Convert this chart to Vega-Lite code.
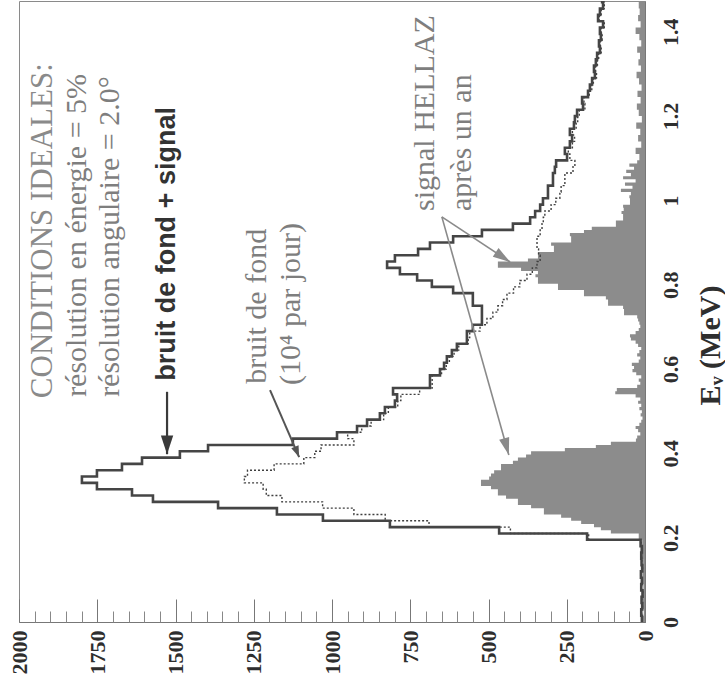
{
"$schema":"https://vega.github.io/schema/vega-lite/v6.json",
"width":626,"height":621,
"autosize":{"type":"none"},
"padding":{"left":19,"top":1,"right":80,"bottom":73},
"background":"white",
"config":{"view":{"stroke":"#8a8a8a","strokeWidth":1},"axis":{"grid":false}},
"datasets":{
"solid":[
{"e":0,"c":10},{"e":0.015,"c":12},{"e":0.03,"c":9},{"e":0.045,"c":11},{"e":0.06,"c":8},{"e":0.075,"c":12},{"e":0.09,"c":10},{"e":0.105,"c":13},{"e":0.12,"c":9},{"e":0.135,"c":11},{"e":0.15,"c":12},{"e":0.165,"c":10},{"e":0.18,"c":14},
{"e":0.195,"c":185},{"e":0.21,"c":466},{"e":0.225,"c":815},{"e":0.24,"c":1029},{"e":0.255,"c":1176},{"e":0.27,"c":1364},{"e":0.285,"c":1572},{"e":0.3,"c":1639},{"e":0.315,"c":1751},{"e":0.33,"c":1799},{"e":0.345,"c":1751},{"e":0.36,"c":1671},{"e":0.375,"c":1607},{"e":0.39,"c":1486},{"e":0.405,"c":1396},{"e":0.42,"c":1125},{"e":0.435,"c":984},{"e":0.45,"c":920},{"e":0.465,"c":888},{"e":0.48,"c":847},{"e":0.495,"c":831},{"e":0.51,"c":799},{"e":0.525,"c":792},{"e":0.54,"c":805},{"e":0.555,"c":687},{"e":0.57,"c":687},{"e":0.585,"c":655},{"e":0.6,"c":642},{"e":0.615,"c":633},{"e":0.63,"c":617},{"e":0.645,"c":601},{"e":0.66,"c":569},{"e":0.675,"c":569},{"e":0.69,"c":550},{"e":0.705,"c":521},{"e":0.72,"c":521},{"e":0.735,"c":521},{"e":0.75,"c":550},{"e":0.765,"c":550},{"e":0.78,"c":613},{"e":0.795,"c":681},{"e":0.81,"c":728},{"e":0.825,"c":783},{"e":0.84,"c":824},{"e":0.855,"c":799},{"e":0.87,"c":725},{"e":0.885,"c":687},{"e":0.9,"c":613},{"e":0.915,"c":521},{"e":0.93,"c":422},{"e":0.945,"c":367},{"e":0.96,"c":351},{"e":0.975,"c":335},{"e":0.99,"c":326},{"e":1.005,"c":310},{"e":1.02,"c":310},{"e":1.035,"c":294},{"e":1.05,"c":294},{"e":1.065,"c":288},{"e":1.08,"c":284},{"e":1.095,"c":249},{"e":1.11,"c":256},{"e":1.125,"c":240},{"e":1.14,"c":233},{"e":1.155,"c":240},{"e":1.17,"c":227},{"e":1.185,"c":224},{"e":1.2,"c":217},{"e":1.215,"c":198},{"e":1.23,"c":201},{"e":1.245,"c":182},{"e":1.26,"c":176},{"e":1.275,"c":169},{"e":1.29,"c":160},{"e":1.305,"c":163},{"e":1.32,"c":157},{"e":1.335,"c":153},{"e":1.35,"c":144},{"e":1.365,"c":147},{"e":1.38,"c":141},{"e":1.395,"c":144},{"e":1.41,"c":134},{"e":1.425,"c":150},{"e":1.44,"c":144},{"e":1.455,"c":134},{"e":1.47,"c":137},{"e":1.485,"c":137}],
"bg":[
{"e":0,"c":9},{"e":0.015,"c":11},{"e":0.03,"c":8},{"e":0.045,"c":10},{"e":0.06,"c":7},{"e":0.075,"c":11},{"e":0.09,"c":9},{"e":0.105,"c":12},{"e":0.12,"c":8},{"e":0.135,"c":10},{"e":0.15,"c":11},{"e":0.165,"c":9},{"e":0.18,"c":12},
{"e":0.195,"c":180},{"e":0.21,"c":430},{"e":0.225,"c":690},{"e":0.24,"c":830},{"e":0.255,"c":930},{"e":0.27,"c":1030},{"e":0.285,"c":1160},{"e":0.3,"c":1210},{"e":0.315,"c":1220},{"e":0.33,"c":1280},{"e":0.345,"c":1270},{"e":0.36,"c":1185},{"e":0.375,"c":1090},{"e":0.39,"c":1055},{"e":0.405,"c":1035},{"e":0.42,"c":930},{"e":0.435,"c":950},{"e":0.45,"c":905},{"e":0.465,"c":875},{"e":0.48,"c":835},{"e":0.495,"c":820},{"e":0.51,"c":790},{"e":0.525,"c":780},{"e":0.54,"c":720},{"e":0.555,"c":680},{"e":0.57,"c":680},{"e":0.585,"c":650},{"e":0.6,"c":635},{"e":0.615,"c":625},{"e":0.63,"c":610},{"e":0.645,"c":595},{"e":0.66,"c":565},{"e":0.675,"c":560},{"e":0.69,"c":527},{"e":0.705,"c":505},{"e":0.72,"c":486},{"e":0.735,"c":470},{"e":0.75,"c":455},{"e":0.765,"c":441},{"e":0.78,"c":420},{"e":0.795,"c":400},{"e":0.81,"c":377},{"e":0.825,"c":360},{"e":0.84,"c":345},{"e":0.855,"c":335},{"e":0.87,"c":340},{"e":0.885,"c":345},{"e":0.9,"c":345},{"e":0.915,"c":335},{"e":0.93,"c":329},{"e":0.945,"c":325},{"e":0.96,"c":320},{"e":0.975,"c":300},{"e":0.99,"c":285},{"e":1.005,"c":272},{"e":1.02,"c":268},{"e":1.035,"c":256},{"e":1.05,"c":256},{"e":1.065,"c":230},{"e":1.08,"c":224},{"e":1.095,"c":240},{"e":1.11,"c":245},{"e":1.125,"c":232},{"e":1.14,"c":225},{"e":1.155,"c":232},{"e":1.17,"c":220},{"e":1.185,"c":215},{"e":1.2,"c":210},{"e":1.215,"c":192},{"e":1.23,"c":195},{"e":1.245,"c":178},{"e":1.26,"c":170},{"e":1.275,"c":165},{"e":1.29,"c":155},{"e":1.305,"c":158},{"e":1.32,"c":152},{"e":1.335,"c":148},{"e":1.35,"c":140},{"e":1.365,"c":143},{"e":1.38,"c":137},{"e":1.395,"c":140},{"e":1.41,"c":130},{"e":1.425,"c":146},{"e":1.44,"c":140},{"e":1.455,"c":130},{"e":1.47,"c":133},{"e":1.485,"c":133}],
"signal":[
{"e":0,"c":6},{"e":0.015,"c":10},{"e":0.03,"c":4},{"e":0.045,"c":12},{"e":0.06,"c":7},{"e":0.075,"c":9},{"e":0.09,"c":5},{"e":0.105,"c":11},{"e":0.12,"c":8},{"e":0.135,"c":13},{"e":0.15,"c":6},{"e":0.165,"c":10},{"e":0.18,"c":14},{"e":0.195,"c":9},{"e":0.21,"c":20},
{"e":0.2175,"c":109},{"e":0.225,"c":141},{"e":0.2325,"c":163},{"e":0.24,"c":204},{"e":0.2475,"c":236},{"e":0.255,"c":268},{"e":0.2625,"c":323},{"e":0.27,"c":323},{"e":0.2775,"c":364},{"e":0.285,"c":406},{"e":0.2925,"c":406},{"e":0.3,"c":444},{"e":0.3075,"c":470},{"e":0.315,"c":470},{"e":0.3225,"c":492},{"e":0.33,"c":524},{"e":0.3375,"c":524},{"e":0.345,"c":498},{"e":0.3525,"c":492},{"e":0.36,"c":482},{"e":0.3675,"c":460},{"e":0.375,"c":460},{"e":0.3825,"c":422},{"e":0.39,"c":406},{"e":0.3975,"c":380},{"e":0.405,"c":364},{"e":0.4125,"c":256},{"e":0.42,"c":157},{"e":0.4275,"c":109},{"e":0.435,"c":29},
{"e":0.4425,"c":25},{"e":0.45,"c":15},{"e":0.4575,"c":22},{"e":0.465,"c":30},{"e":0.4725,"c":18},{"e":0.48,"c":12},{"e":0.4875,"c":8},{"e":0.495,"c":14},{"e":0.5025,"c":10},{"e":0.51,"c":18},{"e":0.5175,"c":12},{"e":0.525,"c":22},{"e":0.5325,"c":15},{"e":0.54,"c":30},{"e":0.5475,"c":95},{"e":0.555,"c":90},{"e":0.5625,"c":25},{"e":0.57,"c":15},{"e":0.5775,"c":20},{"e":0.585,"c":12},{"e":0.5925,"c":28},{"e":0.6,"c":40},{"e":0.6075,"c":35},{"e":0.615,"c":42},{"e":0.6225,"c":20},{"e":0.63,"c":15},{"e":0.6375,"c":25},{"e":0.645,"c":18},{"e":0.6525,"c":12},{"e":0.66,"c":22},{"e":0.6675,"c":30},{"e":0.675,"c":45},{"e":0.6825,"c":48},{"e":0.69,"c":30},{"e":0.6975,"c":20},{"e":0.705,"c":15},{"e":0.7125,"c":18},
{"e":0.72,"c":22},{"e":0.7275,"c":25},{"e":0.735,"c":67},{"e":0.7425,"c":67},{"e":0.75,"c":70},{"e":0.7575,"c":118},{"e":0.765,"c":118},{"e":0.7725,"c":125},{"e":0.78,"c":195},{"e":0.7875,"c":195},{"e":0.795,"c":278},{"e":0.8025,"c":278},{"e":0.81,"c":342},{"e":0.8175,"c":342},{"e":0.825,"c":350},{"e":0.8325,"c":342},{"e":0.84,"c":396},{"e":0.8475,"c":470},{"e":0.855,"c":470},{"e":0.8625,"c":374},{"e":0.87,"c":342},{"e":0.8775,"c":342},{"e":0.885,"c":291},{"e":0.8925,"c":291},{"e":0.9,"c":300},{"e":0.9075,"c":236},{"e":0.915,"c":236},{"e":0.9225,"c":240},{"e":0.93,"c":195},{"e":0.9375,"c":170},{"e":0.945,"c":93},{"e":0.9525,"c":93},{"e":0.96,"c":70},{"e":0.9675,"c":70},{"e":0.975,"c":75},{"e":0.9825,"c":68},{"e":0.99,"c":70},{"e":0.9975,"c":48},{"e":1.005,"c":48},{"e":1.0125,"c":50},{"e":1.02,"c":45},{"e":1.0275,"c":77},{"e":1.035,"c":40},{"e":1.0425,"c":64},{"e":1.05,"c":30},{"e":1.0575,"c":70},{"e":1.065,"c":45},{"e":1.0725,"c":60},{"e":1.08,"c":35},{"e":1.0875,"c":50},
{"e":1.095,"c":25},{"e":1.11,"c":18},{"e":1.125,"c":30},{"e":1.14,"c":12},{"e":1.155,"c":22},{"e":1.17,"c":15},{"e":1.185,"c":28},{"e":1.2,"c":10},{"e":1.215,"c":20},{"e":1.23,"c":26},{"e":1.245,"c":14},{"e":1.26,"c":24},{"e":1.275,"c":11},{"e":1.29,"c":19},{"e":1.305,"c":27},{"e":1.32,"c":13},{"e":1.335,"c":21},{"e":1.35,"c":16},{"e":1.365,"c":25},{"e":1.38,"c":12},{"e":1.395,"c":18},{"e":1.41,"c":30},{"e":1.425,"c":14},{"e":1.44,"c":22},{"e":1.455,"c":17},{"e":1.47,"c":20},{"e":1.485,"c":20}],
"arrows":[
{"id":"a1","c1":1527,"e1":0.546,"c2":1527,"e2":0.398},
{"id":"a2","c1":1198,"e1":0.55,"c2":1105,"e2":0.391},
{"id":"a3","c1":649,"e1":0.961,"c2":431,"e2":0.854},
{"id":"a4","c1":649,"e1":0.961,"c2":435,"e2":0.396}],
"cond":[{"c":1923,"e":0.531,"t":"CONDITIONS IDEALES:"}],
"grey":[
{"c":1815,"e":0.534,"t":"résolution en énergie = 5%"},
{"c":1709,"e":0.534,"t":"résolution angulaire = 2.0°"},
{"c":1240,"e":0.565,"t":"bruit de fond"},
{"c":1131,"e":0.562,"t":"(10⁴ par jour)"},
{"c":703,"e":0.975,"t":"signal HELLAZ"},
{"c":585,"e":0.975,"t":"après un an"}],
"bold":[{"c":1527,"e":0.572,"t":"bruit de fond + signal"}]
},
"layer":[
{"data":{"name":"signal"},
 "mark":{"type":"area","orient":"horizontal","interpolate":"step-before","color":"#8c8c8c","clip":true},
 "encoding":{
  "y":{"field":"e","type":"quantitative","scale":{"domain":[0,1.473],"nice":false},
   "axis":{"orient":"right","values":[0,0.2,0.4,0.6,0.8,1,1.2,1.4],"format":"~g","ticks":false,"domain":true,"domainColor":"#777","labelAngle":270,"labelAlign":"center","labelBaseline":"top","labelPadding":15,"labelFont":"Liberation Serif","labelFontSize":22,"labelFontWeight":"bold","labelColor":"#2e2e2e","labelFlush":false,"labelOverlap":false,
    "title":"Eᵥ (MeV)","titleFont":"Liberation Serif","titleFontSize":30,"titleFontWeight":"bold","titleColor":"#2e2e2e","titleAngle":270,"titleAlign":"center","titleBaseline":"middle","titleX":65,"titleY":344}},
  "x":{"field":"c","type":"quantitative","stack":null,"scale":{"domain":[0,2000],"reverse":true,"nice":false},
   "axis":{"orient":"bottom","values":[0,250,500,750,1000,1250,1500,1750,2000],"format":"d","ticks":false,"domain":true,"domainColor":"#777","labelAngle":270,"labelAlign":"right","labelBaseline":"middle","labelPadding":8,"labelFont":"Liberation Serif","labelFontSize":22,"labelFontWeight":"bold","labelColor":"#2e2e2e","labelFlush":false,"labelOverlap":false,"title":null}}}},
{"data":{"name":"bg"},
 "mark":{"type":"line","interpolate":"step-before","color":"#3f3f3f","strokeWidth":1.4,"strokeDash":[2,2],"clip":true},
 "encoding":{
  "y":{"field":"e","type":"quantitative","scale":{"domain":[0,1.473],"nice":false}},
  "x":{"field":"c","type":"quantitative","scale":{"domain":[0,2000],"reverse":true,"nice":false},
   "axis":{"orient":"bottom","values":[0,250,500,750,1000,1250,1500,1750,2000],"labels":false,"domain":false,"ticks":true,"tickSize":-23,"tickColor":"#777","tickWidth":1,"title":null}},
  "order":{"field":"e","type":"quantitative"}}},
{"data":{"name":"solid"},
 "mark":{"type":"line","interpolate":"step-before","color":"#454545","strokeWidth":2.6,"clip":true},
 "encoding":{
  "y":{"field":"e","type":"quantitative","scale":{"domain":[0,1.473],"nice":false}},
  "x":{"field":"c","type":"quantitative","scale":{"domain":[0,2000],"reverse":true,"nice":false},
   "axis":{"orient":"bottom","values":[50,100,150,200,300,350,400,450,550,600,650,700,800,850,900,950,1050,1100,1150,1200,1300,1350,1400,1450,1550,1600,1650,1700,1800,1850,1900,1950],"labels":false,"domain":false,"ticks":true,"tickSize":-11,"tickColor":"#888","tickWidth":1,"title":null}},
  "order":{"field":"e","type":"quantitative"}}},
{"data":{"name":"arrows"},
 "transform":[{"filter":"datum.id === 'a3' || datum.id === 'a4'"}],
 "mark":{"type":"rule","color":"#8a8a8a","strokeWidth":1.6},
 "encoding":{
  "x":{"field":"c1","type":"quantitative","scale":{"domain":[0,2000],"reverse":true,"nice":false},"axis":null},
  "x2":{"field":"c2"},
  "y":{"field":"e1","type":"quantitative","scale":{"domain":[0,1.473],"nice":false}},
  "y2":{"field":"e2"}}},
{"data":{"name":"arrows"},
 "transform":[{"filter":"datum.id === 'a1'"}],
 "mark":{"type":"rule","color":"#3a3a3a","strokeWidth":2.2},
 "encoding":{
  "x":{"field":"c1","type":"quantitative","scale":{"domain":[0,2000],"reverse":true,"nice":false},"axis":null},
  "x2":{"field":"c2"},
  "y":{"field":"e1","type":"quantitative","scale":{"domain":[0,1.473],"nice":false}},
  "y2":{"field":"e2"}}},
{"data":{"name":"arrows"},
 "transform":[{"filter":"datum.id === 'a2'"}],
 "mark":{"type":"rule","color":"#555555","strokeWidth":2},
 "encoding":{
  "x":{"field":"c1","type":"quantitative","scale":{"domain":[0,2000],"reverse":true,"nice":false},"axis":null},
  "x2":{"field":"c2"},
  "y":{"field":"e1","type":"quantitative","scale":{"domain":[0,1.473],"nice":false}},
  "y2":{"field":"e2"}}},
{"data":{"name":"arrows"},
 "transform":[{"filter":"datum.id === 'a1'"}],
 "mark":{"type":"point","shape":"M0,0L-0.33,-1L0.33,-1Z","filled":true,"size":1400,"angle":0,"color":"#3a3a3a","opacity":1,"strokeWidth":0},
 "encoding":{
  "x":{"field":"c2","type":"quantitative","scale":{"domain":[0,2000],"reverse":true,"nice":false},"axis":null},
  "y":{"field":"e2","type":"quantitative","scale":{"domain":[0,1.473],"nice":false}}}},
{"data":{"name":"arrows"},
 "transform":[{"filter":"datum.id === 'a2'"}],
 "mark":{"type":"point","shape":"M0,0L-0.35,-1L0.35,-1Z","filled":true,"size":500,"angle":338,"color":"#555555","opacity":1,"strokeWidth":0},
 "encoding":{
  "x":{"field":"c2","type":"quantitative","scale":{"domain":[0,2000],"reverse":true,"nice":false},"axis":null},
  "y":{"field":"e2","type":"quantitative","scale":{"domain":[0,1.473],"nice":false}}}},
{"data":{"name":"arrows"},
 "transform":[{"filter":"datum.id === 'a3'"}],
 "mark":{"type":"point","shape":"M0,0L-0.3,-1L0.3,-1Z","filled":true,"size":1200,"angle":303.5,"color":"#8a8a8a","opacity":1,"strokeWidth":0},
 "encoding":{
  "x":{"field":"c2","type":"quantitative","scale":{"domain":[0,2000],"reverse":true,"nice":false},"axis":null},
  "y":{"field":"e2","type":"quantitative","scale":{"domain":[0,1.473],"nice":false}}}},
{"data":{"name":"arrows"},
 "transform":[{"filter":"datum.id === 'a4'"}],
 "mark":{"type":"point","shape":"M0,0L-0.3,-1L0.3,-1Z","filled":true,"size":1200,"angle":344.3,"color":"#8a8a8a","opacity":1,"strokeWidth":0},
 "encoding":{
  "x":{"field":"c2","type":"quantitative","scale":{"domain":[0,2000],"reverse":true,"nice":false},"axis":null},
  "y":{"field":"e2","type":"quantitative","scale":{"domain":[0,1.473],"nice":false}}}},
{"data":{"name":"cond"},
 "mark":{"type":"text","angle":270,"align":"left","baseline":"middle","font":"Liberation Serif","fontSize":31,"color":"#8a8a8a"},
 "encoding":{
  "x":{"field":"c","type":"quantitative","scale":{"domain":[0,2000],"reverse":true,"nice":false},"axis":null},
  "y":{"field":"e","type":"quantitative","scale":{"domain":[0,1.473],"nice":false}},
  "text":{"field":"t"}}},
{"data":{"name":"grey"},
 "mark":{"type":"text","angle":270,"align":"left","baseline":"middle","font":"Liberation Serif","fontSize":30,"color":"#7e7e7e"},
 "encoding":{
  "x":{"field":"c","type":"quantitative","scale":{"domain":[0,2000],"reverse":true,"nice":false},"axis":null},
  "y":{"field":"e","type":"quantitative","scale":{"domain":[0,1.473],"nice":false}},
  "text":{"field":"t"}}},
{"data":{"name":"bold"},
 "mark":{"type":"text","angle":270,"align":"left","baseline":"middle","font":"Liberation Sans","fontSize":27,"fontWeight":"bold","color":"#333333"},
 "encoding":{
  "x":{"field":"c","type":"quantitative","scale":{"domain":[0,2000],"reverse":true,"nice":false},"axis":null},
  "y":{"field":"e","type":"quantitative","scale":{"domain":[0,1.473],"nice":false}},
  "text":{"field":"t"}}}
],
"resolve":{"axis":{"x":"independent"}}
}
